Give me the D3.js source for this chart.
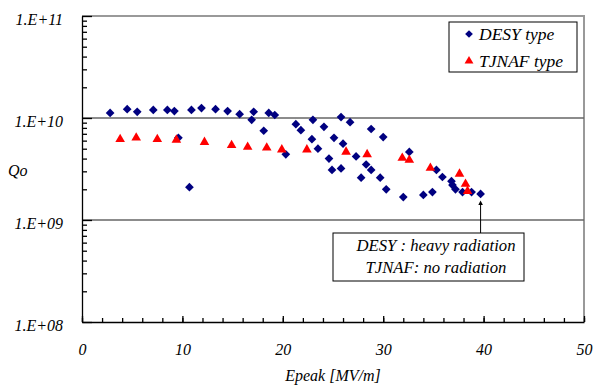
<!DOCTYPE html>
<html lang="en">
<head>
	<meta charset="UTF-8"/>
	<title>Qo vs Epeak</title>
	<script src="https://d3js.org/d3.v7.min.js"></script>
	<style>
		body { margin: 0; background: #fff; }
	</style>
</head>
<body>
<script>
	var w = 593;	// Width of the SVG
	var h = 387;	// Height of the SVG
	var font = "'Liberation Serif', 'DejaVu Serif', serif";

	// plot area edges (window.top is reserved, so use other names)
	var plotLeft = 82, plotRight = 584, plotTop = 16, plotBottom = 322;

	// DESY type cavities: Epeak [MV/m] and Qo
	var desyE = [2.8, 4.5, 5.5, 7.1, 8.5, 9.2, 9.6, 10.7, 10.9, 11.9, 13.3, 14.5, 15.7, 17.1, 16.9,
				18.1, 18.6, 19.2, 20.3, 21.3, 21.8, 23.0, 22.9, 23.5, 24.1, 25.1, 25.8, 26.7, 26.0,
				24.6, 24.9, 25.8, 27.3, 28.3, 28.8, 27.8, 28.8, 30.0, 29.7, 30.3, 32.0, 32.6, 34.0,
				34.9, 35.3, 35.9, 36.8, 36.9, 37.2, 37.9, 38.8, 39.7];
	var desyQ = [1.12e10, 1.22e10, 1.15e10, 1.20e10, 1.20e10, 1.17e10, 6.4e9, 2.1e9, 1.20e10, 1.25e10,
				1.22e10, 1.17e10, 1.09e10, 1.15e10, 9.6e9, 7.5e9, 1.12e10, 1.07e10, 4.4e9, 8.7e9,
				7.6e9, 9.6e9, 6.2e9, 5.0e9, 8.2e9, 6.4e9, 1.02e10, 9.1e9, 5.6e9, 4.0e9, 3.1e9,
				3.2e9, 4.2e9, 3.5e9, 3.1e9, 2.6e9, 7.8e9, 6.5e9, 2.6e9, 2.0e9, 1.68e9, 4.65e9,
				1.76e9, 1.88e9, 3.1e9, 2.64e9, 2.4e9, 2.2e9, 2.0e9, 1.88e9, 1.88e9, 1.8e9];

	// TJNAF type cavities
	var tjnafE = [3.8, 5.4, 7.5, 9.4, 12.2, 14.9, 16.5, 18.4, 19.9, 22.4, 26.3, 28.4, 31.9, 32.6,
				34.7, 37.6, 38.2, 38.4];
	var tjnafQ = [6.2e9, 6.4e9, 6.2e9, 6.1e9, 5.8e9, 5.4e9, 5.2e9, 5.1e9, 4.9e9, 4.9e9, 4.65e9,
				4.4e9, 4.06e9, 3.87e9, 3.24e9, 2.83e9, 2.25e9, 1.92e9];

	var xTicks = [0, 10, 20, 30, 40, 50];
	var yTicks = [1e8, 1e9, 1e10, 1e11];
	var yTickLabels = ["1.E+08", "1.E+09", "1.E+10", "1.E+11"];
	var gridValues = [1e9, 1e10];

	var xScale = d3.scaleLinear()
				.domain([0, 50])
				.range([plotLeft, plotRight]);

	var yScale = d3.scaleLog()
				.domain([1e8, 1e11])
				.range([plotBottom, plotTop]);

	var svg = d3.select("body")
				.append("svg")
				.attr("width", w)
				.attr("height", h);

	// gray frame on top and right
	svg.append("path")
		.attr("d", "M" + plotLeft + "," + plotTop + "H" + plotRight + "V" + plotBottom)
		.attr("fill", "none")
		.attr("stroke", "#999")
		.attr("stroke-width", 2);

	// horizontal gridlines
	svg.selectAll("line.grid")
		.data(gridValues)
		.enter()
		.append("line")
		.attr("class", "grid")
		.attr("x1", plotLeft)
		.attr("x2", plotRight)
		.attr("y1", function(d) { return yScale(d); })
		.attr("y2", function(d) { return yScale(d); })
		.attr("stroke", "#666")
		.attr("stroke-width", 1.5);

	// x axis: minor ticks every 2, then major ticks with labels
	svg.append("g")
		.attr("transform", "translate(0," + plotBottom + ")")
		.call(d3.axisBottom(xScale).tickValues(d3.range(0, 51, 2)).tickSize(-4).tickFormat(""))
		.call(function(g) { g.select(".domain").remove(); });

	var xAxis = svg.append("g")
		.attr("transform", "translate(0," + plotBottom + ")")
		.call(d3.axisBottom(xScale).tickValues(xTicks).tickSize(-6).tickPadding(22).tickSizeOuter(0));

	// y axis: log minor ticks, then decades
	var minor = [];
	yTicks.slice(0, 3).forEach(function(d) {
		for (var k = 2; k < 10; k++) minor.push(d * k);
	});
	svg.append("g")
		.attr("transform", "translate(" + plotLeft + ",0)")
		.call(d3.axisLeft(yScale).tickValues(minor).tickSize(-5).tickFormat(""))
		.call(function(g) { g.select(".domain").remove(); });

	var yAxis = svg.append("g")
		.attr("transform", "translate(" + plotLeft + ",0)")
		.call(d3.axisLeft(yScale).tickValues(yTicks).tickSize(-10).tickPadding(19).tickSizeOuter(0)
			.tickFormat(function(d, i) { return yTickLabels[i]; }));

	yAxis.selectAll(".tick text").attr("dy", "0.5em");
	svg.selectAll(".domain, .tick line").attr("stroke", "#000").attr("stroke-width", 1.3);

	// DESY diamonds
	var diamond = d3.symbol().type(d3.symbolSquare).size(38);
	svg.selectAll("path.desy")
		.data(desyE)
		.enter()
		.append("path")
		.attr("class", "desy")
		.attr("d", diamond)
		.attr("transform", function(d, i) {
			return "translate(" + xScale(d) + "," + yScale(desyQ[i]) + ") rotate(45)";
		})
		.attr("fill", "#000080");

	// TJNAF triangles
	var triangle = d3.symbol().type(d3.symbolTriangle).size(40);
	svg.selectAll("path.tjnaf")
		.data(tjnafE)
		.enter()
		.append("path")
		.attr("class", "tjnaf")
		.attr("d", triangle)
		.attr("transform", function(d, i) {
			return "translate(" + xScale(d) + "," + yScale(tjnafQ[i]) + ")";
		})
		.attr("fill", "#ff0000");

	// axis titles
	svg.append("text")
		.attr("x", (plotLeft + plotRight) / 2)
		.attr("y", 381)
		.attr("text-anchor", "middle")
		.text("Epeak [MV/m]");

	svg.append("text")
		.attr("x", 8)
		.attr("y", 176)
		.text("Qo");

	// one serif italic face for every text so far
	svg.selectAll("g").attr("font-family", null);
	svg.selectAll("text")
		.attr("font-family", font)
		.attr("font-style", "italic")
		.attr("font-size", 16)
		.attr("fill", "#000");

	// legend
	var legend = svg.append("g");
	legend.append("rect")
		.attr("x", 449).attr("y", 22)
		.attr("width", 128).attr("height", 50)
		.attr("fill", "#fff")
		.attr("stroke", "#000");
	legend.append("path")
		.attr("d", d3.symbol().type(d3.symbolSquare).size(30))
		.attr("transform", "translate(469,34) rotate(45)")
		.attr("fill", "#000080");
	legend.append("path")
		.attr("d", d3.symbol().type(d3.symbolTriangle).size(34))
		.attr("transform", "translate(469,61)")
		.attr("fill", "#ff0000");
	legend.append("text").attr("x", 479).attr("y", 40).text("DESY type");
	legend.append("text").attr("x", 479).attr("y", 67).text("TJNAF type");
	legend.selectAll("text")
		.attr("font-family", font)
		.attr("font-style", "italic")
		.attr("font-size", 17.5);

	// annotation box with arrow to the last DESY point
	svg.append("defs").append("marker")
		.attr("id", "head")
		.attr("viewBox", "0 0 10 10")
		.attr("refX", 5).attr("refY", 5)
		.attr("markerWidth", 5).attr("markerHeight", 5)
		.attr("orient", "auto")
		.append("path")
		.attr("d", "M0,0L10,5L0,10Z")
		.attr("fill", "#000");

	svg.append("line")
		.attr("x1", xScale(39.7)).attr("x2", xScale(39.7))
		.attr("y1", 233).attr("y2", yScale(1.8e9) + 9)
		.attr("stroke", "#000")
		.attr("stroke-width", 1)
		.attr("marker-end", "url(#head)");

	var note = svg.append("g");
	note.append("rect")
		.attr("x", 333).attr("y", 233)
		.attr("width", 191).attr("height", 48)
		.attr("fill", "#fff")
		.attr("stroke", "#000");
	note.append("text").attr("x", 436).attr("y", 251).text("DESY : heavy radiation");
	note.append("text").attr("x", 436).attr("y", 273).text("TJNAF: no radiation");
	note.selectAll("text")
		.attr("text-anchor", "middle")
		.attr("font-family", font)
		.attr("font-style", "italic")
		.attr("font-size", 16.7);
</script>
</body>
</html>
